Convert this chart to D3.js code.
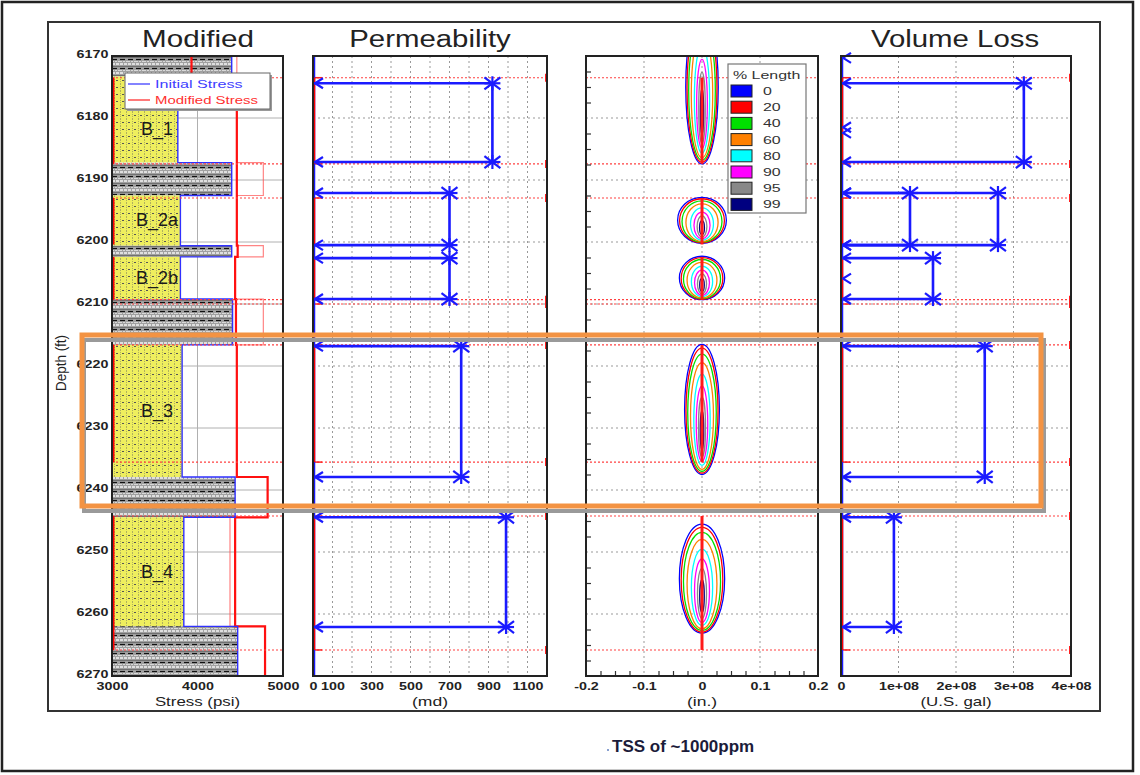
<!DOCTYPE html>
<html>
<head>
<meta charset="utf-8">
<script src="https://cdn.jsdelivr.net/npm/d3@7"></script>
<style>
  body { margin: 0; background: #fff; }
  svg { display: block; }
  text { font-family: "Liberation Sans", Arial, sans-serif; }
</style>
</head>
<body>
<svg id="chart" width="1140" height="775"></svg>
<script>
// ---- data ----
const depthTicks = [6170, 6180, 6190, 6200, 6210, 6220, 6230, 6240, 6250, 6260, 6270];

// lithology / stress column
const layerName = ["", "B_1", "", "B_2a", "", "B_2b", "", "B_3", "", "B_4", ""];
const layerLabelDepth = [null, 6181.8, null, 6196.5, null, 6205.8, null, 6227.2, null, 6253.3, null];
const lithology = ["shale", "sand", "shale", "sand", "shale", "sand", "shale", "sand", "shale", "sand", "shale"];
const layerTop = [6170, 6173.3, 6187.2, 6192.5, 6200.6, 6202.4, 6209.2, 6216.6, 6237.9, 6244.4, 6262.0];
const layerBottom = [6173.3, 6187.2, 6192.5, 6200.6, 6202.4, 6209.2, 6216.6, 6237.9, 6244.4, 6262.0, 6270];
const initialStress = [4400, 3770, 4400, 3800, 4400, 3800, 4410, 3820, 4440, 3840, 4470];
const modifiedStress = [3930, 4460, 4460, 4460, 4470, 4440, 4450, 4460, 4820, 4440, 4790];
const modifiedStressAlt = [4460, 4460, 4770, 4460, 4770, 4440, 4770, 4460, 4820, 4380, 4790];

// perforated / frac intervals and boundary lines
const perfTop = [6173.5, 6192.9, 6202.4, 6216.6, 6244.2];
const perfBottom = [6187.4, 6200.4, 6209.3, 6235.5, 6265.8];
const redLineDepths = [6173.5, 6187.4, 6192.9, 6209.3, 6210.0, 6216.6, 6235.5, 6244.2, 6265.8];

// permeability brackets (md)
const permTop = [6174.4, 6192.1, 6202.6, 6216.8, 6244.4];
const permBottom = [6187.1, 6200.5, 6209.2, 6237.9, 6262.1];
const permValue = [920, 700, 700, 760, 990];

// volume loss brackets (U.S. gal)
const volTop = [6174.4, 6192.1, 6192.1, 6202.6, 6216.8, 6244.4];
const volBottom = [6187.1, 6200.5, 6200.5, 6209.2, 6237.9, 6262.1];
const volValue = [3.18e8, 1.2e8, 2.73e8, 1.6e8, 2.5e8, 0.92e8];
const volZeroDepths = [6170.3, 6181.5, 6182.4, 6205.9];

// frac width profiles (in.)
const fracCenter = [6175.0, 6196.5, 6205.8, 6227.0, 6254.3];
const fracHalfHeight = [12.4, 3.7, 3.5, 10.5, 8.8];
const fracHalfWidth = [0.028, 0.042, 0.039, 0.030, 0.039];
const lengthLevels = ["0", "20", "40", "60", "80", "90", "95", "99"];
const levelColors = ["#0000ff", "#ff0000", "#00e000", "#ff8000", "#00ffff", "#ff00ff", "#888888", "#000080"];
const levelWidthScale = [1, 0.92, 0.82, 0.66, 0.47, 0.33, 0.2, 0.1];
const levelHeightScale = [1, 0.96, 0.9, 0.82, 0.7, 0.58, 0.46, 0.3];
const levelShift = [0, 0.02, 0.05, 0.1, 0.16, 0.22, 0.27, 0.32];

// axis ticks
const stressTicks = [3000, 4000, 5000];
const permTicks = [0, 100, 300, 500, 700, 900, 1100];
const permGrid = [100, 200, 300, 400, 500, 600, 700, 800, 900, 1000, 1100];
const widthTicks = [-0.2, -0.1, 0, 0.1, 0.2];
const volTicks = [0, 1e8, 2e8, 3e8, 4e8];

// ---- scales ----
const svg = d3.select("#chart");
const y = d3.scaleLinear().domain([6170, 6270]).range([56, 676]);
const xS = d3.scaleLinear().domain([3000, 5000]).range([112, 283]);
const xP = d3.scaleLinear().domain([0, 1200]).range([313, 547]);
const xW = d3.scaleLinear().domain([-0.2, 0.2]).range([586, 818]);
const xV = d3.scaleLinear().domain([0, 4e8]).range([841, 1071]);
const yTop = y.range()[0], yBot = y.range()[1];

function addText(g, x, yy, str, o) {
    return g.append("text")
        .attr("transform", `translate(${x},${yy}) scale(${o.sx || 1},1)`)
        .attr("text-anchor", o.anchor || "middle")
        .attr("font-size", o.size)
        .attr("font-weight", o.weight || "normal")
        .attr("fill", o.fill || "#222")
        .attr("letter-spacing", o.ls || 0)
        .text(str);
}

// ---- patterns ----
const defs = svg.append("defs");
const sand = defs.append("pattern").attr("id", "sand")
    .attr("patternUnits", "userSpaceOnUse").attr("width", 6).attr("height", 7);
sand.append("rect").attr("width", 6).attr("height", 7).attr("fill", "#eeee5e");
sand.append("line").attr("x1", 0.5).attr("x2", 0.5).attr("y1", 0).attr("y2", 7)
    .attr("stroke", "#a0a060").attr("stroke-width", 0.8).attr("stroke-dasharray", "1,1");
sand.append("rect").attr("x", 2).attr("y", 3).attr("width", 2).attr("height", 1).attr("fill", "#555");

const shale = defs.append("pattern").attr("id", "shale")
    .attr("patternUnits", "userSpaceOnUse").attr("width", 8).attr("height", 9);
shale.append("rect").attr("width", 8).attr("height", 9).attr("fill", "#a0a0a0");
shale.append("line").attr("x1", 0).attr("x2", 8).attr("y1", 1).attr("y2", 1)
    .attr("stroke", "#f4f4f4").attr("stroke-width", 1.3).attr("stroke-dasharray", "3,1");
shale.append("line").attr("x1", 0).attr("x2", 8).attr("y1", 3.5).attr("y2", 3.5)
    .attr("stroke", "#707070").attr("stroke-width", 1);
shale.append("line").attr("x1", 0).attr("x2", 8).attr("y1", 5.5).attr("y2", 5.5)
    .attr("stroke", "#111").attr("stroke-width", 1.2).attr("stroke-dasharray", "5,3");
shale.append("line").attr("x1", 0).attr("x2", 8).attr("y1", 7.5).attr("y2", 7.5)
    .attr("stroke", "#d8d8d8").attr("stroke-width", 1).attr("stroke-dasharray", "2,1");

defs.append("clipPath").attr("id", "clipW").append("rect")
    .attr("x", xW.range()[0]).attr("y", yTop)
    .attr("width", xW.range()[1] - xW.range()[0]).attr("height", yBot - yTop);

// ---- outer frames ----
svg.append("rect").attr("x", 2).attr("y", 2).attr("width", 1131).attr("height", 769)
    .attr("fill", "none").attr("stroke", "#222").attr("stroke-width", 2.5);
svg.append("rect").attr("x", 48).attr("y", 22).attr("width", 1052).attr("height", 689)
    .attr("fill", "none").attr("stroke", "#333").attr("stroke-width", 2);

const gridDepths = depthTicks.slice(1, -1);

// ---- panel 1 : stress ----
const p1 = svg.append("g");
p1.selectAll(".hg").data(gridDepths).join("line")
    .attr("x1", xS.range()[0]).attr("x2", xS.range()[1])
    .attr("y1", d => y(d)).attr("y2", d => y(d))
    .attr("stroke", "#b0b0b0").attr("stroke-width", 1);
p1.append("line").attr("x1", xS(4000)).attr("x2", xS(4000)).attr("y1", yTop).attr("y2", yBot)
    .attr("stroke", "#b0b0b0").attr("stroke-width", 1);

const layers = layerTop.map((t, i) => ({ t, b: layerBottom[i], lith: lithology[i], s0: initialStress[i] }));
p1.selectAll(".lay").data(layers).join("rect")
    .attr("x", xS(3000)).attr("y", d => y(d.t))
    .attr("width", d => xS(d.s0) - xS(3000)).attr("height", d => y(d.b) - y(d.t))
    .attr("fill", d => `url(#${d.lith})`);

function stepPoints(vals) {
    const pts = [];
    layerTop.forEach((t, i) => { pts.push([vals[i], t]); pts.push([vals[i], layerBottom[i]]); });
    return pts;
}
const stepLine = d3.line().x(d => xS(d[0])).y(d => y(d[1]));
p1.append("path").attr("d", stepLine(stepPoints(modifiedStressAlt)))
    .attr("fill", "none").attr("stroke", "#ff5050").attr("stroke-opacity", 0.7).attr("stroke-width", 1.2);
p1.append("path").attr("d", stepLine(stepPoints(modifiedStress)))
    .attr("fill", "none").attr("stroke", "#ff1010").attr("stroke-width", 2.2);
p1.append("path").attr("d", stepLine(stepPoints(initialStress)))
    .attr("fill", "none").attr("stroke", "#3030ff").attr("stroke-width", 1.4);

p1.selectAll(".rl").data(redLineDepths).join("line")
    .attr("x1", xS.range()[0]).attr("x2", xS.range()[1])
    .attr("y1", d => y(d)).attr("y2", d => y(d))
    .attr("stroke", "#ff4040").attr("stroke-width", 1.1).attr("stroke-dasharray", "2,2");
p1.selectAll(".perf").data(perfTop).join("line")
    .attr("x1", xS(3000) + 1).attr("x2", xS(3000) + 1)
    .attr("y1", d => y(d)).attr("y2", (d, i) => y(perfBottom[i]))
    .attr("stroke", "#ff0000").attr("stroke-width", 3);

layerName.forEach((n, i) => {
    if (!n) return;
    addText(p1, 157, y(layerLabelDepth[i]) + 6, n, { size: 18, fill: "#1a1a1a" });
});

// legend
p1.append("rect").attr("x", 127).attr("y", 75).attr("width", 145).attr("height", 36).attr("fill", "#999");
p1.append("rect").attr("x", 125).attr("y", 73).attr("width", 145).attr("height", 36)
    .attr("fill", "#fff").attr("stroke", "#666").attr("stroke-width", 1);
p1.append("line").attr("x1", 128).attr("x2", 150).attr("y1", 84).attr("y2", 84).attr("stroke", "#3030ff").attr("stroke-width", 1.2);
p1.append("line").attr("x1", 128).attr("x2", 150).attr("y1", 100).attr("y2", 100).attr("stroke", "#ff2020").attr("stroke-width", 1.2);
addText(p1, 155, 88, "Initial Stress", { size: 11.5, anchor: "start", fill: "#4040ff", sx: 1.4 });
addText(p1, 155, 104, "Modified Stress", { size: 11.5, anchor: "start", fill: "#ff3030", sx: 1.3 });

// ---- grids for panels 2-4 ----
function dottedGrid(g, xs, xVals) {
    g.selectAll(".hg").data(gridDepths).join("line")
        .attr("x1", xs.range()[0]).attr("x2", xs.range()[1])
        .attr("y1", d => y(d)).attr("y2", d => y(d))
        .attr("stroke", "#999").attr("stroke-width", 1).attr("stroke-dasharray", "2,3");
    g.selectAll(".vg").data(xVals).join("line")
        .attr("x1", d => xs(d)).attr("x2", d => xs(d))
        .attr("y1", yTop).attr("y2", yBot)
        .attr("stroke", "#999").attr("stroke-width", 1).attr("stroke-dasharray", "2,3");
    g.selectAll(".rl").data(redLineDepths).join("line")
        .attr("x1", xs.range()[0]).attr("x2", xs.range()[1])
        .attr("y1", d => y(d)).attr("y2", d => y(d))
        .attr("stroke", "#ff4040").attr("stroke-width", 1.1).attr("stroke-dasharray", "2,2");
}
function edgeMarks(g, xs) {
    g.selectAll(".re").data(redLineDepths).join("line")
        .attr("x1", xs.range()[1] - 1).attr("x2", xs.range()[1] - 1)
        .attr("y1", d => y(d) - 4).attr("y2", d => y(d) + 4)
        .attr("stroke", "#ff2020").attr("stroke-width", 2);
    g.selectAll(".le").data(redLineDepths).join("line")
        .attr("x1", xs.range()[0]).attr("x2", xs.range()[0] + 9)
        .attr("y1", d => y(d)).attr("y2", d => y(d))
        .attr("stroke", "#ff2020").attr("stroke-width", 1.5);
    g.append("line").attr("x1", xs.range()[0] + 1).attr("x2", xs.range()[0] + 1)
        .attr("y1", yTop).attr("y2", yBot).attr("stroke", "#1a1aff").attr("stroke-width", 2.5);
    g.selectAll(".perf").data(perfTop).join("line")
        .attr("x1", xs.range()[0] + 1).attr("x2", xs.range()[0] + 1)
        .attr("y1", d => y(d)).attr("y2", (d, i) => y(perfBottom[i]))
        .attr("stroke", "#ff0000").attr("stroke-width", 2.5);
}
function star(g, cx, cy) {
    const r = 8, s = 6;
    const segs = [[-r, 0, r, 0], [0, -7, 0, 7], [-r, -s, r, s], [-r, s, r, -s]];
    segs.forEach(q => g.append("line")
        .attr("x1", cx + q[0]).attr("y1", cy + q[1]).attr("x2", cx + q[2]).attr("y2", cy + q[3])
        .attr("stroke", "#1a1aff").attr("stroke-width", 2.2));
}
function arrowHead(g, x0, cy) {
    g.append("path").attr("d", `M${x0 + 9},${cy - 5}L${x0 + 1},${cy}L${x0 + 9},${cy + 5}`)
        .attr("fill", "none").attr("stroke", "#1a1aff").attr("stroke-width", 2.2);
}
function brackets(g, xs, tops, bottoms, vals) {
    const x0 = xs(0) + 1;
    tops.forEach((t, i) => {
        const xv = xs(vals[i]), y1 = y(t), y2 = y(bottoms[i]);
        g.append("path").attr("d", `M${x0},${y1}H${xv}V${y2}H${x0}`)
            .attr("fill", "none").attr("stroke", "#1a1aff").attr("stroke-width", 2.6);
        arrowHead(g, x0, y1); arrowHead(g, x0, y2);
        star(g, xv, y1); star(g, xv, y2);
    });
}

// ---- panel 2 : permeability ----
const p2 = svg.append("g");
dottedGrid(p2, xP, permGrid);
edgeMarks(p2, xP);
brackets(p2, xP, permTop, permBottom, permValue);

// ---- panel 3 : frac width ----
const p3 = svg.append("g");
dottedGrid(p3, xW, [-0.1, 0, 0.1]);
p3.append("g").attr("transform", `translate(${xW.range()[0]},0)`)
    .call(d3.axisLeft(y).tickValues(d3.range(6172.5, 6270, 2.5).filter(d => d % 10 !== 0)).tickSize(-5).tickFormat(""))
    .call(g => g.select(".domain").remove())
    .selectAll("line").attr("stroke", "#333").attr("stroke-width", 1.2);
p3.append("g").attr("transform", `translate(0,${yBot})`)
    .call(d3.axisBottom(xW).tickValues(d3.range(-0.175, 0.2, 0.025).filter(d => Math.abs(d * 10 - Math.round(d * 10)) > 0.01)).tickSize(-5).tickFormat(""))
    .call(g => g.select(".domain").remove())
    .selectAll("line").attr("stroke", "#333").attr("stroke-width", 1.2);

const fracG = p3.append("g").attr("clip-path", "url(#clipW)");
fracCenter.forEach((c, f) => {
    levelColors.forEach((col, k) => {
        const hh = fracHalfHeight[f] * levelHeightScale[k];
        const cc = c + fracHalfHeight[f] * levelShift[k];
        fracG.append("ellipse")
            .attr("cx", xW(0)).attr("cy", y(cc))
            .attr("rx", xW(fracHalfWidth[f] * levelWidthScale[k]) - xW(0))
            .attr("ry", y(cc + hh) - y(cc))
            .attr("fill", "none").attr("stroke", col).attr("stroke-width", 1.3);
    });
});
fracG.selectAll(".perf").data(perfTop).join("line")
    .attr("x1", xW(0)).attr("x2", xW(0))
    .attr("y1", d => y(d)).attr("y2", (d, i) => y(perfBottom[i]))
    .attr("stroke", "#ff1a1a").attr("stroke-width", 3);

// frac legend
const lg = p3.append("g");
lg.append("rect").attr("x", 728).attr("y", 64).attr("width", 78).attr("height", 149)
    .attr("fill", "#fff").attr("stroke", "#777").attr("stroke-width", 1.2);
addText(lg, 733, 79, "% Length", { size: 11, anchor: "start", fill: "#333", sx: 1.45 });
lengthLevels.forEach((lv, k) => {
    const cy = 91 + k * 16.2;
    lg.append("rect").attr("x", 731).attr("y", cy - 6).attr("width", 21).attr("height", 12)
        .attr("fill", levelColors[k]).attr("stroke", "#222").attr("stroke-width", 1);
    addText(lg, 763, cy + 4, lv, { size: 11, anchor: "start", fill: "#333", sx: 1.45 });
});

// ---- panel 4 : volume loss ----
const p4 = svg.append("g");
dottedGrid(p4, xV, [1e8, 2e8, 3e8]);
edgeMarks(p4, xV);
volZeroDepths.forEach(d => {
    arrowHead(p4, xV(0) + 1, y(d));
});
brackets(p4, xV, volTop, volBottom, volValue);

// ---- panel frames ----
[xS, xP, xW, xV].forEach(xs => {
    svg.append("rect").attr("x", xs.range()[0]).attr("y", yTop)
        .attr("width", xs.range()[1] - xs.range()[0]).attr("height", yBot - yTop)
        .attr("fill", "none").attr("stroke", "#222").attr("stroke-width", 2);
});

// ---- axes labels ----
function styleAxis(g) {
    g.select(".domain").remove();
    g.attr("font-family", "Liberation Sans, Arial, sans-serif").attr("font-size", 11).attr("font-weight", "bold");
    g.selectAll("text").attr("fill", "#222").attr("transform", "scale(1.3,1)");
}
svg.append("g").attr("transform", `translate(${xS.range()[0] - 1},0)`)
    .call(d3.axisLeft(y).tickValues(depthTicks).tickSize(0).tickPadding(2).tickFormat(d3.format("d")))
    .call(styleAxis)
    .selectAll("text").attr("dy", "0.1em");

function bottomAxis(xs, ticks, fmt) {
    svg.append("g").attr("transform", `translate(0,${yBot})`)
        .call(d3.axisBottom(xs).tickValues(ticks).tickSize(0).tickPadding(6).tickFormat(fmt))
        .call(styleAxis);
}
bottomAxis(xS, stressTicks, d3.format("d"));
bottomAxis(xP, permTicks, d3.format("d"));
bottomAxis(xW, widthTicks, d => d === 0 ? "0" : String(d));
bottomAxis(xV, volTicks, d => d === 0 ? "0" : (d / 1e8) + "e+08");

const axisTitleY = 706;
addText(svg, d3.mean(xS.range()), axisTitleY, "Stress (psi)", { size: 13.5, sx: 1.25 });
addText(svg, d3.mean(xP.range()), axisTitleY, "(md)", { size: 13.5, sx: 1.3 });
addText(svg, xW(0), axisTitleY, "(in.)", { size: 13.5, sx: 1.3 });
addText(svg, d3.mean(xV.range()), axisTitleY, "(U.S. gal)", { size: 13.5, sx: 1.25 });

svg.append("text").attr("transform", "translate(66,363) scale(1.15,1) rotate(-90)")
    .attr("text-anchor", "middle").attr("font-size", 13.5).attr("fill", "#222").text("Depth (ft)");

// ---- titles ----
addText(svg, 198, 47, "Modified", { size: 23.5, sx: 1.26 });
addText(svg, 430, 47, "Permeability", { size: 23.5, sx: 1.25 });
addText(svg, 955, 47, "Volume Loss", { size: 23.5, sx: 1.25 });

// ---- highlight box ----
svg.append("rect").attr("x", 84).attr("y", 340).attr("width", 960).attr("height", 171)
    .attr("fill", "none").attr("stroke", "#9a9a9a").attr("stroke-width", 4);
svg.append("rect").attr("x", 82).attr("y", 335).attr("width", 959).attr("height", 171)
    .attr("fill", "none").attr("stroke", "#f39343").attr("stroke-width", 5);

// ---- caption ----
svg.append("circle").attr("cx", 608).attr("cy", 750).attr("r", 1).attr("fill", "#6080c0");
addText(svg, 612, 752, "TSS of ~1000ppm", { size: 17, weight: "bold", anchor: "start", fill: "#1c1c3a" });
</script>
</body>
</html>
